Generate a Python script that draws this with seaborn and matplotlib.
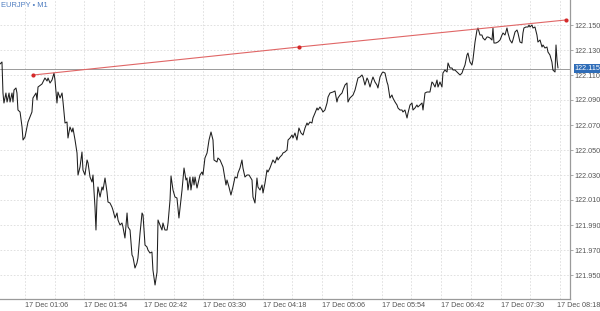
import matplotlib
matplotlib.use("Agg")
import matplotlib.pyplot as plt
import matplotlib.ticker as mticker
import matplotlib.transforms as mtransforms
import numpy as np
import pandas as pd
import seaborn as sns

# ---------------- data ----------------
symbol_title = "EURJPY • M1"
day_label = "17 Dec"

# minutes after midnight (17 Dec)
minutes = [
    45.8, 47.4, 48.2, 49.0, 50.6, 51.5, 53.1, 53.9, 55.5, 56.3, 57.1, 58.7, 59.5, 60.3, 62.0,
    63.6, 64.4, 66.0, 68.4, 71.6, 72.4, 74.9, 75.7, 76.5, 79.7, 82.1, 83.8, 84.6, 86.2, 87.8,
    89.4, 90.2, 91.8, 92.6, 94.3, 95.9, 96.7, 98.3, 99.9, 100.7, 102.3, 103.9, 104.7, 106.4,
    108.0, 108.8, 110.4, 112.0, 112.8, 114.4, 116.1, 116.9, 118.5, 120.1, 120.9, 122.5, 123.3,
    124.1, 124.9, 126.6, 128.2, 129.0, 130.6, 132.2, 133.0, 134.6, 136.2, 137.0, 138.7, 140.3,
    141.1, 142.7, 144.3, 145.1, 146.7, 148.4, 149.2, 150.8, 152.4, 153.2, 154.8, 156.4, 157.2,
    158.9, 160.5, 161.3, 162.9, 164.5, 165.3, 166.9, 168.5, 169.3, 171.0, 172.6, 173.4, 175.0,
    176.6, 177.4, 179.0, 180.7, 181.5, 183.1, 183.9, 185.5, 187.1, 188.7, 190.3, 192.8, 194.4,
    196.0, 196.8, 197.6, 199.2, 200.0, 201.6, 202.5, 203.3, 204.9, 207.3, 208.9, 209.7, 211.3,
    213.0, 214.6, 216.2, 217.8, 218.6, 221.0, 221.8, 223.5, 225.9, 226.7, 228.3, 229.1, 230.7,
    232.3, 233.9, 235.6, 237.2, 238.0, 239.6, 241.2, 242.0, 243.6, 245.3, 246.9, 249.3, 250.1,
    251.7, 253.3, 254.1, 255.8, 257.4, 258.2, 259.8, 261.4, 262.2, 263.8, 266.2, 267.9, 269.5,
    270.3, 271.9, 273.5, 274.3, 275.9, 277.6, 278.4, 280.0, 281.6, 282.4, 284.0, 285.6, 287.2,
    288.9, 290.5, 292.1, 293.7, 294.5, 296.1, 297.7, 298.5, 300.2, 301.8, 302.6, 304.2, 305.8,
    306.6, 308.2, 309.9, 310.7, 312.3, 314.7, 316.3, 317.9, 318.7, 320.4, 322.0, 322.8, 324.4,
    326.0, 326.8, 328.4, 330.9, 332.5, 334.1, 334.9, 336.5, 338.1, 338.9, 340.5, 342.2, 343.0,
    344.6, 346.2, 347.0, 348.6, 350.2, 351.0, 352.7, 354.3, 355.1, 356.7, 358.3, 359.1, 360.7,
    362.3, 363.1, 364.8, 366.4, 367.2, 368.8, 370.4, 371.2, 372.8, 374.5, 375.3, 376.9, 378.5,
    379.3, 380.9, 382.5, 383.3, 385.0, 386.6, 387.4, 389.0, 390.6, 393.0, 394.6, 395.4, 397.1,
    398.7, 399.5, 401.1, 402.7, 403.5, 405.1, 406.8, 407.6, 409.2, 410.8, 411.6, 413.2, 414.8,
    415.6, 417.3, 418.9, 419.7, 421.3, 422.9, 423.7, 425.3, 426.9, 427.7, 429.4, 431.0, 431.8,
    433.4, 435.0, 435.8, 437.4, 439.1, 439.9, 441.5, 443.1, 443.9, 444.7, 446.3, 447.9, 449.6,
    451.2, 452.0, 453.6, 455.2, 456.0, 457.6, 459.2, 460.0, 461.7, 463.3, 464.1, 465.7, 467.3,
    468.1, 468.9, 470.5, 472.2, 473.0, 473.8, 475.4, 476.2, 477.8, 479.4, 480.2, 481.9, 483.5,
    484.3, 485.9, 487.5, 488.3, 489.9, 491.5, 492.3, 494.0, 494.8, 495.6, 496.4,
]

prices = [
    122.1188, 122.1204, 122.0956, 122.0876, 122.0956, 122.0884, 122.0956, 122.0884, 122.0956,
    122.0884, 122.0980, 122.0996, 122.0956, 122.0820, 122.0804, 122.0684, 122.0580, 122.0604,
    122.0724, 122.0804, 122.0916, 122.0956, 122.0900, 122.1004, 122.1028, 122.1076, 122.1052,
    122.1076, 122.1036, 122.1060, 122.1116, 122.1060, 122.0876, 122.0964, 122.0916, 122.0956,
    122.0884, 122.0716, 122.0724, 122.0596, 122.0684, 122.0644, 122.0676, 122.0580, 122.0476,
    122.0300, 122.0364, 122.0484, 122.0340, 122.0300, 122.0420, 122.0396, 122.0284, 122.0244,
    122.0300, 122.0044, 121.9860, 122.0100, 122.0204, 122.0124, 122.0204, 122.0180, 122.0276,
    122.0164, 122.0084, 122.0076, 122.0044, 122.0020, 121.9956, 121.9996, 121.9940, 121.9900,
    121.9916, 121.9884, 121.9796, 121.9996, 121.9884, 121.9860, 121.9660, 121.9644, 121.9556,
    121.9596, 121.9636, 121.9836, 121.9996, 121.9980, 121.9740, 121.9724, 121.9700, 121.9676,
    121.9684, 121.9540, 121.9420, 121.9524, 121.9940, 121.9900, 121.9860, 121.9916, 121.9860,
    121.9860, 121.9916, 122.0100, 122.0292, 122.0180, 122.0124, 122.0116, 121.9956, 122.0180,
    122.0356, 122.0260, 122.0276, 122.0180, 122.0284, 122.0180, 122.0284, 122.0220, 122.0284,
    122.0196, 122.0300, 122.0324, 122.0300, 122.0436, 122.0476, 122.0580, 122.0644, 122.0580,
    122.0420, 122.0404, 122.0436, 122.0420, 122.0364, 122.0316, 122.0220, 122.0260, 122.0204,
    122.0140, 122.0204, 122.0284, 122.0276, 122.0316, 122.0356, 122.0420, 122.0356, 122.0284,
    122.0300, 122.0300, 122.0260, 122.0124, 122.0076, 122.0276, 122.0204, 122.0180, 122.0220,
    122.0156, 122.0236, 122.0340, 122.0324, 122.0356, 122.0420, 122.0396, 122.0444, 122.0420,
    122.0444, 122.0460, 122.0476, 122.0484, 122.0500, 122.0580, 122.0596, 122.0620, 122.0596,
    122.0636, 122.0580, 122.0676, 122.0636, 122.0620, 122.0676, 122.0716, 122.0700, 122.0724,
    122.0716, 122.0756, 122.0796, 122.0836, 122.0820, 122.0844, 122.0820, 122.0804, 122.0820,
    122.0876, 122.0924, 122.0956, 122.0964, 122.0972, 122.0884, 122.0916, 122.0940, 122.0956,
    122.0980, 122.1020, 122.1036, 122.0884, 122.0916, 122.0940, 122.0980, 122.1044, 122.1076,
    122.1084, 122.1100, 122.1084, 122.1020, 122.1076, 122.1060, 122.1004, 122.1060, 122.1084,
    122.1044, 122.1020, 122.0996, 122.1084, 122.1116, 122.1124, 122.1116, 122.1044, 122.1020,
    122.0916, 122.0940, 122.0916, 122.0884, 122.0860, 122.0836, 122.0820, 122.0820, 122.0804,
    122.0820, 122.0756, 122.0796, 122.0860, 122.0876, 122.0820, 122.0836, 122.0860, 122.0844,
    122.0860, 122.0876, 122.0820, 122.0956, 122.0964, 122.0964, 122.1044, 122.1036, 122.1004,
    122.1060, 122.1004, 122.1044, 122.1004, 122.1116, 122.1140, 122.1124, 122.1196, 122.1156,
    122.1156, 122.1140, 122.1140, 122.1124, 122.1116, 122.1100, 122.1116, 122.1140, 122.1180,
    122.1260, 122.1276, 122.1204, 122.1180, 122.1220, 122.1364, 122.1460, 122.1476, 122.1420,
    122.1420, 122.1396, 122.1380, 122.1404, 122.1404, 122.1396, 122.1380, 122.1476, 122.1356,
    122.1356, 122.1364, 122.1380, 122.1420, 122.1436, 122.1420, 122.1476, 122.1436, 122.1380,
    122.1356, 122.1380, 122.1444, 122.1460, 122.1436, 122.1364, 122.1356, 122.1436, 122.1476,
    122.1484, 122.1484, 122.1500, 122.1484, 122.1500, 122.1476, 122.1484, 122.1420, 122.1364,
    122.1380, 122.1324, 122.1340, 122.1316, 122.1324, 122.1284, 122.1260, 122.1204, 122.1140,
    122.1124, 122.1340, 122.1220, 122.1156,
]

# trend line (start, middle, end)
trend_minutes = [72.7, 287.2, 502.6]
trend_prices = [122.1100, 122.1324, 122.1540]

current_price = 122.115
y_ticks = [121.950, 121.970, 121.990, 122.010, 122.030, 122.050,
           122.070, 122.090, 122.110, 122.130, 122.150]
x_label_ticks = [66, 114, 162, 210, 258, 306, 354, 402, 450, 498]
x_grid_ticks = [66, 90, 114, 138, 162, 186, 210, 234, 258, 282, 306, 330,
                354, 378, 402, 426, 450, 474, 498]

# ---------------- plotting ----------------
sns.set_style("white")
plt.rcParams["font.family"] = ["Liberation Sans", "DejaVu Sans"]

fig = plt.figure(figsize=(6.0, 3.11), dpi=100)
ax = fig.add_axes([0.0, 1 - 299 / 311, 570 / 600, 299 / 311])

df = pd.DataFrame({"t": minutes, "price": prices})
sns.lineplot(data=df, x="t", y="price", ax=ax, color="#1e1e1e",
             linewidth=0.75, estimator=None, sort=False, zorder=3)

tdf = pd.DataFrame({"t": trend_minutes, "price": trend_prices})
sns.lineplot(data=tdf, x="t", y="price", ax=ax, color="#e06666",
             linewidth=0.8, estimator=None, sort=False, zorder=4)
sns.scatterplot(data=tdf, x="t", y="price", ax=ax, color="#d42a2a",
                s=9, linewidth=0, zorder=5)

ax.axhline(current_price, color="#9a9a9a", linewidth=0.7, zorder=2)

ax.set_xlim(45.8, 506.1)
ax.set_ylim(121.9308, 122.170)

# grid
for xv in x_grid_ticks:
    ax.axvline(xv, color="#dcdcdc", linewidth=0.6, linestyle=(0, (2, 2)), zorder=1)
for yv in y_ticks:
    ax.axhline(yv, color="#dcdcdc", linewidth=0.6, linestyle=(0, (2, 2)), zorder=1)

ax.set_xlabel("")
ax.set_ylabel("")

# y axis on right
ax.yaxis.tick_right()
ax.set_yticks(y_ticks)
ax.yaxis.set_major_formatter(mticker.FormatStrFormatter("%.3f"))
ax.tick_params(axis="y", which="major", length=2, width=0.5, color="#888888",
               labelsize=5.2, labelcolor="#555555", pad=1.5, right=True, left=False)

def fmt_time(v, pos=None):
    v = int(round(v))
    return f"{day_label} {v // 60:02d}:{v % 60:02d}"

ax.set_xticks(x_label_ticks)
ax.set_xticklabels([fmt_time(v) for v in x_label_ticks])
ax.tick_params(axis="x", which="major", length=0, labelsize=5.2,
               labelcolor="#555555", pad=2.5)
xlabels = ax.get_xticklabels()
for lab in xlabels:
    lab.set_horizontalalignment("left")
# keep the last label inside the figure
shift = mtransforms.ScaledTranslation(-3 / 100, 0, fig.dpi_scale_trans)
xlabels[-1].set_transform(xlabels[-1].get_transform() + shift)

for side in ["top", "left"]:
    ax.spines[side].set_visible(False)
for side in ["right", "bottom"]:
    ax.spines[side].set_visible(True)
    ax.spines[side].set_color("#9a9a9a")
    ax.spines[side].set_linewidth(0.9)

# current price tag
ax.annotate(f"{current_price:.3f}", xy=(1.0, current_price),
            xycoords=("axes fraction", "data"), xytext=(3.5, 0),
            textcoords="offset points", ha="left", va="center",
            fontsize=5.2, color="white", zorder=10, annotation_clip=False,
            bbox=dict(boxstyle="square,pad=0.15", fc="#2f6db8", ec="none"))

fig.text(0.001, 0.992, symbol_title, ha="left", va="top", fontsize=5.4,
         color="#4f7dc0")

fig.savefig("out.png", dpi=100)
